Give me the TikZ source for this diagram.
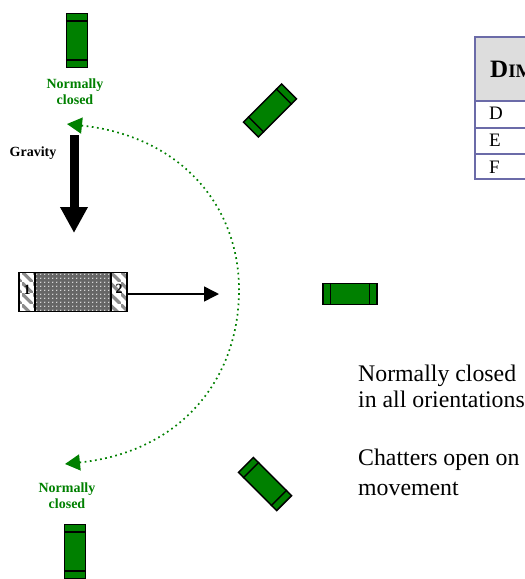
\documentclass[tikz,border=0pt]{standalone}
\usepackage{fontspec}
\setmainfont{Liberation Serif}
\usetikzlibrary{arrows.meta,patterns,positioning,calc}

\definecolor{valvegreen}{RGB}{0,128,0}
\definecolor{tableblue}{RGB}{107,107,168}
\definecolor{tablegray}{RGB}{221,221,221}

\pgfdeclarepatternformonly{meshdots}{\pgfqpoint{0pt}{0pt}}{\pgfqpoint{4pt}{4pt}}{\pgfqpoint{4pt}{4pt}}{
  \pgfpathcircle{\pgfqpoint{1pt}{1pt}}{0.8pt}
  \pgfusepath{fill}
}
\pgfdeclarepatternformonly{widehatch}{\pgfqpoint{0pt}{0pt}}{\pgfqpoint{11pt}{11pt}}{\pgfqpoint{11pt}{11pt}}{
  \pgfsetlinewidth{3.5pt}
  \pgfpathmoveto{\pgfqpoint{-1pt}{12pt}}
  \pgfpathlineto{\pgfqpoint{12pt}{-1pt}}
  \pgfusepath{stroke}
}

\tikzset{
  valvebody/.style={draw=black, fill=valvegreen, line width=1.5pt, minimum width=54pt, minimum height=21pt, inner sep=0pt},
  valvelabel/.style={text=valvegreen, font=\fontsize{14}{16}\selectfont\bfseries, align=center},
  bodytext/.style={anchor=west, align=left, inner sep=0pt, font=\fontsize{23.8}{26}\selectfont},
  rowtext/.style={anchor=west, inner sep=0pt, font=\fontsize{19}{24}\selectfont},
  swing/.style={draw=valvegreen, line width=1.7pt, dash pattern=on 1.7pt off 3.5pt, {Triangle[length=15pt,width=16pt,fill=valvegreen]}-},
  midpart/.style={draw, line width=1.3pt, outer sep=0pt, preaction={fill=black!60}, pattern=meshdots, pattern color=white, minimum width=76pt, minimum height=39pt, inner sep=0pt},
  endpart/.style={draw, line width=1.3pt, outer sep=0pt, pattern=widehatch, pattern color=black!45, minimum width=16pt, minimum height=39pt, inner sep=0pt},
  endnum/.style={font=\fontsize{14}{14}\selectfont\bfseries, inner sep=0pt},
}

\begin{document}
\begin{tikzpicture}[x=1pt, y=-1pt]
    \useasboundingbox (0,0) rectangle (525,579);
    \clip (0,0) rectangle (525,579);

    % valves round the arc
    \foreach \n/\x/\y/\a in {vtop/77/40.5/90, vupper/270/110.5/45, vright/350/294/0, vlower/265/484/-45, vbottom/75/551.5/90} {
        \node[valvebody, rotate=\a] (\n) at (\x,\y) {};
        \draw[line width=1.5pt] ($(\n.north west)!0.145!(\n.north east)$) -- ($(\n.south west)!0.145!(\n.south east)$);
        \draw[line width=1.5pt] ($(\n.north west)!0.855!(\n.north east)$) -- ($(\n.south west)!0.855!(\n.south east)$);
    }

    \node[valvelabel] (ltop) at (75,92) {Normally\\closed};
    \node[valvelabel] (lbot) at (67,495.5) {Normally\\closed};
    \node[font=\fontsize{14}{16}\selectfont\bfseries] (gravity) at (33,153) {Gravity};

    % swing of the valve
    \coordinate (swingtop) at (67,124);
    \coordinate (swingbot) at (65,464);
    \draw[swing] (swingtop) .. controls (180,136) and (239,205) .. (239,290);
    \draw[swing] (swingbot) .. controls (180,452) and (239,380) .. (239,290);

    % gravity arrow
    \coordinate (gravstart) at (74,135);
    \coordinate (gravend) at (74,233);
    \draw[line width=9pt, -{Triangle[length=26pt,width=26pt]}] (gravstart) -- (gravend);

    % valve on its side
    \node[midpart] (mid) at (73,292) {};
    \node[endpart, left=0pt of mid] (end1) {};
    \node[endpart, right=0pt of mid] (end2) {};
    \node[endnum] at ([yshift=2pt]end1) {1};
    \node[endnum] at ([yshift=3pt]end2) {2};
    \coordinate (force) at (219,294);
    \draw[line width=1.5pt, -{Triangle[length=15pt,width=15pt]}] (end2.east |- force) -- (force);

    % table, runs off the page
    \draw[tableblue, line width=1.5pt, fill=tablegray] (475,37) rectangle (540,101);
    \draw[tableblue, line width=1.5pt, fill=white] (475,101) rectangle (540,128);
    \draw[tableblue, line width=1.5pt, fill=white] (475,128) rectangle (540,154);
    \draw[tableblue, line width=1.5pt, fill=white] (475,154) rectangle (540,179);
    \node[anchor=west, inner sep=0pt] (thead) at (490,69) {\bfseries\fontsize{25}{25}\selectfont D\fontsize{19}{19}\selectfont IM};
    \foreach \n/\y/\t in {rowd/113/D, rowe/140/E, rowf/167/F} {
        \node[rowtext] (\n) at (489,\y) {\t};
    }

    % notes
    \node[bodytext] (note1) at (358,386) {Normally closed\\in all orientations};
    \node[bodytext, font=\fontsize{23.8}{30}\selectfont] (note2) at (358,472.5) {Chatters open on\\movement};
\end{tikzpicture}
\end{document}
